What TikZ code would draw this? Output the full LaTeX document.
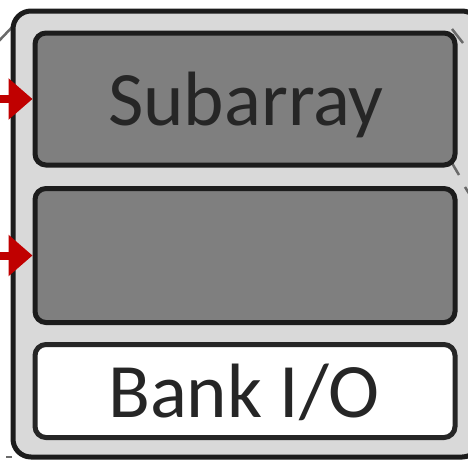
\documentclass[tikz,border=0pt]{standalone}
\usepackage{fontspec}
\setmainfont{Carlito}
\usetikzlibrary{arrows.meta}
\definecolor{bankfill}{HTML}{D9D9D9}
\definecolor{subfill}{HTML}{7F7F7F}
\definecolor{edgedark}{HTML}{1C1C1C}
\definecolor{labeltext}{HTML}{262626}
\definecolor{feedred}{HTML}{C00000}
\definecolor{guidegray}{HTML}{6A6A6A}
\tikzset{
  bankbox/.style={draw=edgedark, line width=5pt, fill=bankfill, rounded corners=18pt,
    rectangle, inner sep=0pt},
  subbox/.style={draw=edgedark, line width=5pt, fill=subfill, rounded corners=11pt,
    rectangle, inner sep=0pt, minimum width=420pt},
  iobox/.style={subbox, draw=labeltext, fill=white},
  biglabel/.style={anchor=base, inner sep=0pt, text=labeltext,
    font=\fontsize{77}{77}\selectfont},
  feed/.style={draw=feedred, line width=8pt,
    -{Triangle[length=24pt,width=40pt,fill=feedred]}},
  guide/.style={draw=guidegray, line width=2.5pt}
}
\begin{document}
\begin{tikzpicture}[x=1pt,y=-1pt]
  \useasboundingbox (0,0) rectangle (468,459);
  % guide lines running behind the bank outline
  \coordinate (gA1) at (-4,44);
  \coordinate (gA2) at (16,23);
  \coordinate (gB1) at (6,457);
  \coordinate (gB2) at (12,457);
  \draw[guide] (gA1) -- (gA2);
  \draw[guide, line width=1.5pt] (gB1) -- (gB2);
  % bank outline
  \node[bankbox, minimum width=467pt, minimum height=446pt] (bank) at (246.5,234) {};
  % guide lines leaving the subarray corners
  \coordinate (gC1) at (452,29);
  \coordinate (gC2) at (463,43);
  \coordinate (gD1) at (449,158);
  \coordinate (gD2) at (459,175);
  \coordinate (gE1) at (465,187);
  \coordinate (gE2) at (470,195);
  \draw[guide] (gC1) -- (gC2);
  \draw[guide] (gD1) -- (gD2);
  \draw[guide] (gE1) -- (gE2);
  % subarrays and I/O block
  \node[subbox, minimum height=132pt] (sub1) at (245,99) {};
  \node[subbox, minimum height=134pt] (sub2) at (245,255.5) {};
  \node[iobox, minimum height=93pt] (bankio) at (245,391) {};
  \node[biglabel] (sub1label) at (246,125) {Subarray};
  \node[biglabel] (iolabel) at (244,417) {Bank I/O};
  % incoming feeds
  \coordinate (in1) at (-6,99);
  \coordinate (in2) at (-6,255.5);
  \draw[feed] (in1) -- (sub1.west);
  \draw[feed] (in2) -- (sub2.west);
\end{tikzpicture}
\end{document}
